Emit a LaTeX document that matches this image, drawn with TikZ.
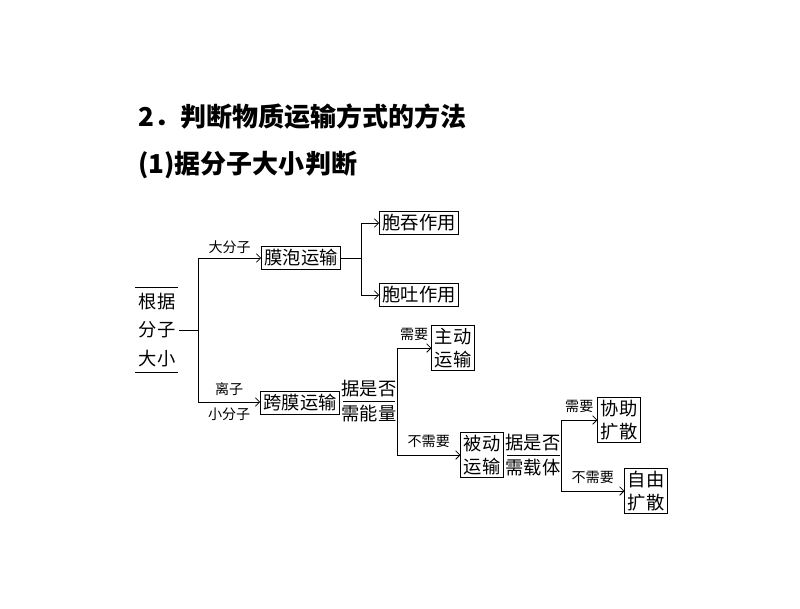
\documentclass[tikz,border=0pt]{standalone}
\usepackage{fontspec}
\setmainfont{Liberation Serif}
\newfontfamily\cjk{Noto Sans CJK SC}
\usetikzlibrary{arrows.meta}
\tikzset{
	box/.style={shape=rectangle, draw, line width=0.6pt, inner sep=2pt, font=\cjk\fontsize{13}{16}\selectfont, align=center},
	tag/.style={inner sep=1pt, font=\cjk\fontsize{10}{12}\selectfont},
	ask/.style={inner sep=1pt, font=\cjk\fontsize{13}{16}\selectfont, align=center},
	link/.style={line width=0.6pt, -{Straight Barb[length=3pt]}},
}
\begin{document}
\begin{tikzpicture}[x=0.025cm, y=-0.025cm]
	\useasboundingbox (0, 0) rectangle (800, 608);
	% Titles:
	\node[anchor=west, inner sep=0pt, font=\cjk\bfseries\fontsize{18.5}{22}\selectfont] (title) at (138, 117){2．判断物质运输方式的方法};
	\node[anchor=west, inner sep=0pt, font=\cjk\bfseries\fontsize{18.5}{22}\selectfont] (sub) at (138, 165){(1)据分子大小判断};
	% Root:
	\node[ask] (root) at (157, 330){根据\\[4pt]分子\\[4pt]大小};
	\draw[line width=0.6pt] (135, 287) -- (178, 287);
	\draw[line width=0.6pt] (135, 372) -- (178, 372);
	\coordinate (split) at (198, 330);
	\draw[line width=0.6pt] (root.east) ++(2,0) -- (split);
	\draw[line width=0.6pt] (198, 258) -- (198, 402);
	% Nodes:
	\node[box] (vesicle) at (301, 258){膜泡运输};
	\node[box] (trans) at (300, 403){跨膜运输};
	\node[box] (endo) at (419, 223){胞吞作用};
	\node[box] (exo) at (419, 295){胞吐作用};
	\node[box] (active) at (453, 348){主动\\运输};
	\node[box] (passive) at (482, 455){被动\\运输};
	\node[box] (assist) at (619, 420){协助\\扩散};
	\node[box] (free) at (646, 491){自由\\扩散};
	% Questions:
	\node[ask] (energy) at (369, 401){据是否\\[2pt]需能量};
	\draw[line width=0.6pt] (343, 401) -- (395, 401);
	\node[ask] (carrier) at (533, 455){据是否\\[2pt]需载体};
	\draw[line width=0.6pt] (507, 455) -- (560, 455);
	% Wires:
	\draw[link] (198, 258) -- (vesicle.west) node[tag, midway, above=2pt]{大分子};
	\draw[link] (198, 402) -- (trans.west |- 0, 402) node[tag, midway, above=3pt]{离子} node[tag, midway, below=3pt]{小分子};
	\draw[line width=0.6pt] (vesicle.east) -- (361, 258);
	\draw[link] (361, 293) -- (361, 223) -- (endo.west);
	\draw[link] (361, 258) -- (361, 295) -- (exo.west);
	\draw[link] (397, 401) -- (397, 348) -- (active.west) node[tag, midway, above=4pt]{需要};
	\draw[link] (397, 401) -- (397, 455) -- (passive.west) node[tag, midway, above=4pt]{不需要};
	\draw[link] (561, 455) -- (561, 420) -- (assist.west) node[tag, midway, above=4pt]{需要};
	\draw[link] (561, 455) -- (561, 491) -- (free.west) node[tag, midway, above=4pt]{不需要};
\end{tikzpicture}
\end{document}
